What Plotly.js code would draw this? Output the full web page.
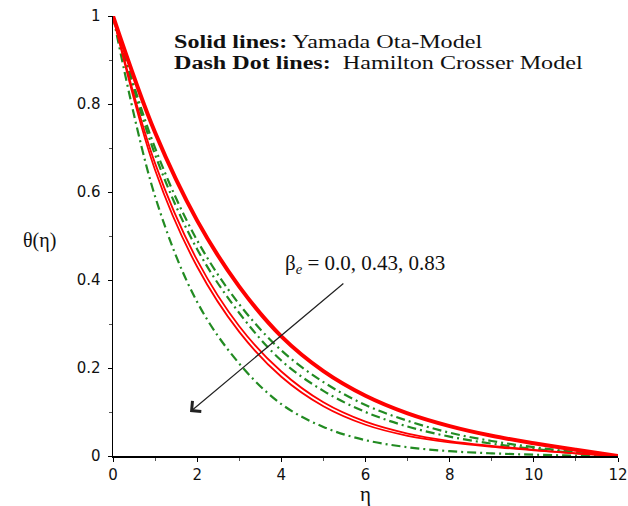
<!DOCTYPE html>
<html>
<head>
<meta charset="utf-8">
<script src="https://cdn.plot.ly/plotly-3.0.1.min.js"></script>
<style>
  html, body { margin: 0; padding: 0; background: #fff; }
  #chart { width: 628px; height: 506px; }
  /* the two key lines use a wide, stretched serif face */
  g.annotation[data-index="0"] text.annotation-text,
  g.annotation[data-index="1"] text.annotation-text {
    transform-box: fill-box;
    transform-origin: 0 50%;
    transform: scaleX(1.27);
  }
</style>
</head>
<body>
<div id="chart"></div>
<script>
// Similarity coordinate eta and temperature profiles theta(eta)
const eta = [0, 1, 2, 3, 4, 5, 6, 7, 8, 9, 10, 11, 12];

// Yamada-Ota model (solid lines), beta_e = 0.0, 0.43, 0.83
const yamadaOta_b000 = [1, 0.735, 0.535, 0.385, 0.272, 0.193, 0.137, 0.097, 0.068, 0.046, 0.029, 0.014, 0];
const yamadaOta_b043 = [1, 0.665, 0.445, 0.295, 0.192, 0.122, 0.078, 0.051, 0.034, 0.023, 0.014, 0.006, 0];
const yamadaOta_b083 = [1, 0.65, 0.43, 0.282, 0.18, 0.113, 0.071, 0.046, 0.031, 0.021, 0.013, 0.006, 0];

// Hamilton-Crosser model (dash-dot lines), beta_e = 0.0, 0.43, 0.83
const hamiltonCrosser_b000 = [1, 0.70, 0.49, 0.345, 0.24, 0.168, 0.116, 0.08, 0.053, 0.034, 0.02, 0.009, 0];
const hamiltonCrosser_b043 = [1, 0.685, 0.47, 0.325, 0.217, 0.148, 0.10, 0.067, 0.044, 0.028, 0.016, 0.007, 0];
const hamiltonCrosser_b083 = [1, 0.59, 0.35, 0.21, 0.118, 0.066, 0.036, 0.02, 0.011, 0.006, 0.003, 0.001, 0];

const xTicks = [0, 2, 4, 6, 8, 10, 12];
const yTicks = [0, 0.2, 0.4, 0.6, 0.8, 1];
const yTickText = ['0', '0.2', '0.4', '0.6', '0.8', '1'];

const RED = '#ff0000';
const GREEN = '#228b22';
const DASHDOT = '9px,4px,2px,4px';

function curve(y, color, width, dash) {
  return {
    x: eta, y: y, type: 'scatter', mode: 'lines',
    line: { color: color, width: width, dash: dash, shape: 'spline', smoothing: 1 },
    hoverinfo: 'skip', showlegend: false
  };
}

const data = [
  curve(hamiltonCrosser_b000, GREEN, 2.2, DASHDOT),
  curve(hamiltonCrosser_b043, GREEN, 2.2, DASHDOT),
  curve(hamiltonCrosser_b083, GREEN, 2.2, DASHDOT),
  curve(yamadaOta_b043, RED, 1.8, 'solid'),
  curve(yamadaOta_b083, RED, 1.8, 'solid'),
  curve(yamadaOta_b000, RED, 4, 'solid')
];

const serif = 'Liberation Serif, Times New Roman, serif';
const sans = 'DejaVu Sans, Verdana, sans-serif';

const layout = {
  width: 628, height: 506,
  margin: { l: 113, r: 10, t: 16, b: 50 },
  paper_bgcolor: '#ffffff', plot_bgcolor: '#ffffff',
  showlegend: false,
  xaxis: {
    range: [0, 12], tickvals: xTicks, ticktext: xTicks.map(String),
    showgrid: false, zeroline: false, showline: true, linecolor: '#000', linewidth: 1.5,
    ticks: 'outside', ticklen: 4, tickcolor: '#000', tickwidth: 1,
    minor: { dtick: 1, ticks: 'outside', ticklen: 3, tickcolor: '#555', showgrid: false },
    tickfont: { family: sans, size: 15, color: '#111' },
    title: { text: 'η', font: { family: serif, size: 21, color: '#111' }, standoff: 9 }
  },
  yaxis: {
    range: [0, 1], tickvals: yTicks, ticktext: yTickText,
    showgrid: false, zeroline: false, showline: true, linecolor: '#000', linewidth: 1.5,
    ticks: 'outside', ticklen: 4, tickcolor: '#000', tickwidth: 1,
    minor: { dtick: 0.1, ticks: 'outside', ticklen: 3, tickcolor: '#555', showgrid: false },
    tickfont: { family: sans, size: 15, color: '#111' },
    ticklabelstandoff: 4
  },
  annotations: [
    {
      xref: 'paper', yref: 'paper', x: 0.117, y: 0.941, xanchor: 'left', yanchor: 'middle',
      showarrow: false, align: 'left',
      text: '<b>Solid lines:</b> Yamada Ota-Model',
      font: { family: serif, size: 19, color: '#111' }
    },
    {
      xref: 'paper', yref: 'paper', x: 0.117, y: 0.895, xanchor: 'left', yanchor: 'middle',
      showarrow: false, align: 'left',
      text: '<b>Dash Dot lines:</b>  Hamilton Crosser Model',
      font: { family: serif, size: 19, color: '#111' }
    },
    {
      xref: 'paper', yref: 'paper', x: -0.145, y: 0.49, xanchor: 'center', yanchor: 'middle',
      showarrow: false, text: 'θ(η)',
      font: { family: serif, size: 20, color: '#111' }
    },
    {
      xref: 'paper', yref: 'paper', x: 0.336, y: 0.436, xanchor: 'left', yanchor: 'middle',
      showarrow: false, text: 'β<sub><i>e</i></sub> = 0.0, 0.43, 0.83',
      font: { family: serif, size: 21, color: '#111' }
    },
    {
      // arrow pointing in the direction of increasing beta_e
      xref: 'x', yref: 'y', axref: 'x', ayref: 'y',
      x: 1.83, y: 0.10, ax: 5.51, ay: 0.395,
      showarrow: true, text: '', arrowhead: 4, arrowsize: 2.2, arrowwidth: 1.2,
      arrowcolor: '#222', standoff: 0
    }
  ]
};

Plotly.newPlot('chart', data, layout, { staticPlot: true, displayModeBar: false });
</script>
</body>
</html>
